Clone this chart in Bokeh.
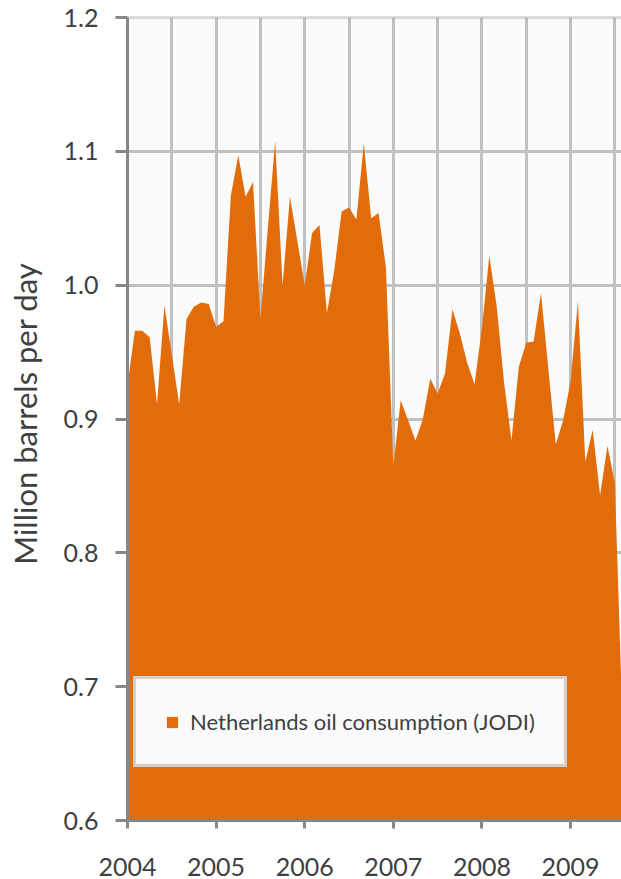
import math
from bokeh.plotting import figure
from bokeh.models import (ColumnDataSource, FixedTicker, NumeralTickFormatter, Legend,
                          BoxAnnotation, Label)
from bokeh.embed import file_html
from bokeh.resources import INLINE

# Monthly data, Jan 2004 .. Aug 2009 (million barrels per day)
years = [2004, 2005, 2006, 2007, 2008, 2009]
consumption = [
    # 2004
    0.925, 0.966, 0.966, 0.961, 0.911, 0.985, 0.948, 0.911, 0.975, 0.984, 0.987, 0.986,
    # 2005
    0.969, 0.973, 1.067, 1.097, 1.066, 1.077, 0.975, 1.042, 1.108, 1.000, 1.066, 1.033,
    # 2006
    1.000, 1.039, 1.045, 0.979, 1.011, 1.055, 1.058, 1.049, 1.106, 1.050, 1.054, 1.013,
    # 2007
    0.865, 0.914, 0.899, 0.884, 0.900, 0.930, 0.919, 0.934, 0.982, 0.964, 0.942, 0.926,
    # 2008
    0.968, 1.022, 0.984, 0.927, 0.884, 0.939, 0.957, 0.958, 0.994, 0.937, 0.881, 0.899,
    # 2009
    0.928, 0.988, 0.868, 0.892, 0.843, 0.880, 0.852, 0.680,
]
months = [2004 + i / 12 for i in range(len(consumption))]
y_ticks = [0.6, 0.7, 0.8, 0.9, 1.0, 1.1, 1.2]
grid_y = [0.7, 0.8, 0.9, 1.0, 1.1]
grid_x = [2004.5, 2005, 2005.5, 2006, 2006.5, 2007, 2007.5, 2008, 2008.5, 2009, 2009.5]
series_name = "Netherlands oil consumption (JODI)"
y_title = "Million barrels per day"
x_min, x_max = 2004, 2009.575
y_min, y_max = 0.6, 1.2

FONT = "Lato"
TXT = "#404040"
AX = "#878787"
GRID = "#c0c0c0"
ORANGE = "#E36C0A"

# Layout: the frame covers the whole canvas; both axes sit at fixed locations so
# that tick labels can be placed exactly like the reference.
W, H = 621, 879
plot_left, plot_top, plot_bottom = 127, 17, 820
ppx = (W - plot_left) / (x_max - x_min)
ppy = (plot_bottom - plot_top) / (y_max - y_min)
x_start = x_min - plot_left / ppx
y_end = y_max + plot_top / ppy
y_start = y_max - (H - plot_top) / ppy

source = ColumnDataSource(dict(x=months, y=consumption))

p = figure(
    width=W, height=H,
    x_range=(x_start, x_max), y_range=(y_start, y_end),
    output_backend="svg", toolbar_location=None,
    min_border_left=0, min_border_right=0, min_border_top=0, min_border_bottom=0,
    background_fill_color="white", border_fill_color="white",
)
p.outline_line_color = None

# plot-area background (behind the grid)
p.center.insert(0, BoxAnnotation(left=x_min, right=x_max + 1, bottom=y_min, top=y_max,
                                 fill_color="#fafafa", fill_alpha=1,
                                 line_color=None, level="underlay"))

r = p.varea(x="x", y1=y_min, y2="y", source=source, fill_color=ORANGE)

# axes
p.xaxis.ticker = FixedTicker(ticks=years)
p.xaxis.fixed_location = y_min
p.xaxis.bounds = (x_min, x_max)
p.yaxis.ticker = FixedTicker(ticks=y_ticks)
p.yaxis.fixed_location = x_min
p.yaxis.bounds = (y_min, y_max)
p.yaxis.formatter = NumeralTickFormatter(format="0.0")
for ax in (p.xaxis[0], p.yaxis[0]):
    ax.axis_line_color = AX
    ax.axis_line_width = 3
    ax.major_tick_line_color = AX
    ax.major_tick_line_width = 3
    ax.major_tick_in = 0
    ax.minor_tick_line_color = None
    ax.major_label_text_font = FONT
    ax.major_label_text_font_size = "25px"
    ax.major_label_text_color = TXT
p.yaxis.major_tick_out = 12
p.yaxis.major_label_standoff = 17
p.xaxis.major_tick_out = 8
p.xaxis.major_label_standoff = 29

# grid
p.xgrid.ticker = FixedTicker(ticks=grid_x)
p.ygrid.ticker = FixedTicker(ticks=grid_y)
for g in (p.xgrid[0], p.ygrid[0]):
    g.grid_line_color = GRID
    g.grid_line_width = 3
if "cross_bounds" in p.ygrid[0].properties():
    p.ygrid[0].cross_bounds = (x_min, x_max)
    p.xgrid[0].cross_bounds = (y_min, y_max)

# white covers outside the plot area (over the grid lines, under the data)
cover = dict(fill_color="white", fill_alpha=1, line_color=None, level="underlay")
p.add_layout(BoxAnnotation(left=x_start - 1, right=x_max + 1, bottom=y_start - 1, top=y_min, **cover))
p.add_layout(BoxAnnotation(left=x_start - 1, right=x_max + 1, bottom=y_max, top=y_end + 1, **cover))
p.add_layout(BoxAnnotation(left=x_start - 1, right=x_min, bottom=y_start - 1, top=y_end + 1, **cover))
# dark top border of the plot area
p.add_layout(BoxAnnotation(left=x_min, right=x_max + 1, bottom=y_max, top=y_max,
                           fill_alpha=0, line_color=AX, line_width=3, level="underlay"))

# y axis title
p.add_layout(Label(x=24, y=(y_min + y_max) / 2 + 0.004, x_units="screen", y_units="data",
                   text=y_title, angle=math.pi / 2, text_align="center",
                   text_baseline="middle", text_font=FONT, text_font_size="31px",
                   text_color=TXT))

legend = Legend(items=[(series_name, [r])], location=(plot_left + 6, 53 + (H - plot_bottom)))
legend.padding = 29
legend.margin = 0
legend.glyph_width = 14
legend.glyph_height = 14
legend.label_height = 22
legend.label_standoff = 11
legend.label_text_font = FONT
legend.label_text_font_size = "22px"
legend.label_text_color = TXT
legend.border_line_color = "#a6a6a6"
legend.border_line_width = 3
legend.background_fill_color = "#fafafa"
legend.background_fill_alpha = 1
p.add_layout(legend)

open("out.html", "w").write(file_html(p, INLINE))
